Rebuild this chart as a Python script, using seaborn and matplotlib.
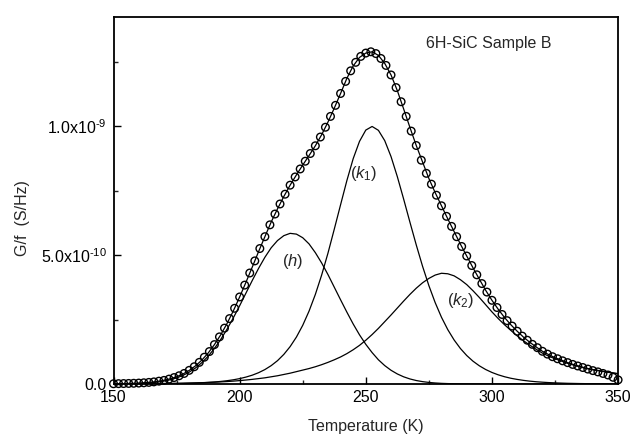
import numpy as np
import matplotlib
matplotlib.use("Agg")
import matplotlib.pyplot as plt
from matplotlib.ticker import MultipleLocator
import seaborn as sns

# ---- data (values in units of 1e-9 S/Hz) ----
T_fit = np.arange(150, 350.1, 2.5)      # temperature grid of fitted curves (K)
T_data = np.arange(150, 350.1, 2.0)     # temperature grid of measured points (K)

h_peak = [0.0003, 0.0005, 0.0008, 0.0013, 0.0020, 0.0032, 0.0050, 0.0075,
          0.0113, 0.0165, 0.0236, 0.0332, 0.0460, 0.0623, 0.0828, 0.1078,
          0.138, 0.173, 0.213, 0.257, 0.304, 0.353, 0.402, 0.449,
          0.492, 0.529, 0.557, 0.576, 0.585, 0.582, 0.568, 0.544,
          0.510, 0.470, 0.425, 0.376, 0.327, 0.279, 0.233, 0.191,
          0.154, 0.122, 0.094, 0.0715, 0.0533, 0.039, 0.0279, 0.0196,
          0.0135, 0.0092, 0.0061, 0.0040, 0.0025, 0.0016, 0.0010, 0.0006,
          0.0004, 0.0002, 0.0001, 0, 0, 0, 0, 0,
          0, 0, 0, 0, 0, 0, 0, 0,
          0, 0, 0, 0, 0, 0, 0, 0,
          0]

k1_peak = [0.0001, 0.0002, 0.0002, 0.0003, 0.0004, 0.0005, 0.0006, 0.0008,
           0.0011, 0.0014, 0.0017, 0.0022, 0.0029, 0.0037, 0.0047, 0.0061,
           0.0078, 0.0100, 0.0128, 0.0164, 0.0209, 0.0269, 0.0343, 0.0439,
           0.056, 0.0714, 0.0906, 0.1149, 0.1451, 0.1823, 0.2279, 0.2829,
           0.3478, 0.4231, 0.508, 0.601, 0.696, 0.790, 0.875, 0.942,
           0.986, 1.000, 0.985, 0.945, 0.883, 0.805, 0.718, 0.628,
           0.540, 0.457, 0.382, 0.316, 0.259, 0.211, 0.171, 0.1378,
           0.1106, 0.0885, 0.0707, 0.0563, 0.0448, 0.0356, 0.0282, 0.0223,
           0.0178, 0.0141, 0.0111, 0.0088, 0.0070, 0.0055, 0.0044, 0.0035,
           0.0027, 0.0022, 0.0017, 0.0014, 0.0011, 0.0009, 0.0007, 0.0005,
           0.0004]

k2_peak = [0.0007, 0.0008, 0.0009, 0.0010, 0.0012, 0.0014, 0.0016, 0.0018,
           0.0021, 0.0025, 0.0029, 0.0033, 0.0039, 0.0045, 0.0052, 0.0061,
           0.0070, 0.0082, 0.0095, 0.0112, 0.0132, 0.0155, 0.018, 0.021,
           0.024, 0.028, 0.032, 0.037, 0.042, 0.048, 0.054, 0.060,
           0.067, 0.075, 0.084, 0.094, 0.105, 0.118, 0.133, 0.150,
           0.170, 0.192, 0.216, 0.242, 0.268, 0.295, 0.322, 0.348,
           0.372, 0.393, 0.410, 0.423, 0.430, 0.428, 0.420, 0.405,
           0.386, 0.362, 0.336, 0.308, 0.280, 0.254, 0.230, 0.208,
           0.187, 0.168, 0.151, 0.135, 0.120, 0.108, 0.098, 0.089,
           0.080, 0.073, 0.066, 0.060, 0.055, 0.051, 0.047, 0.043,
           0.040]

total_fit = [0.0011, 0.0015, 0.0019, 0.0026, 0.0036, 0.0051, 0.0072, 0.0101,
             0.0145, 0.0204, 0.0282, 0.0387, 0.0528, 0.0705, 0.0927, 0.1200,
             0.153, 0.191, 0.235, 0.284, 0.338, 0.395, 0.454, 0.514,
             0.572, 0.629, 0.680, 0.728, 0.772, 0.812, 0.850, 0.887,
             0.925, 0.968, 1.017, 1.071, 1.128, 1.187, 1.235, 1.268,
             1.285, 1.290, 1.276, 1.245, 1.200, 1.139, 1.068, 0.996,
             0.926, 0.862, 0.798, 0.743, 0.692, 0.641, 0.592, 0.543,
             0.497, 0.451, 0.407, 0.364, 0.325, 0.290, 0.258, 0.230,
             0.205, 0.182, 0.162, 0.144, 0.127, 0.114, 0.102, 0.093,
             0.083, 0.075, 0.068, 0.061, 0.056, 0.052, 0.048, 0.044,
             0.040]

measured = [0.0010, 0.0014, 0.0018, 0.0022, 0.0028, 0.0036, 0.0047, 0.0062, 0.0082, 0.0110,
            0.014, 0.019, 0.025, 0.032, 0.041, 0.053, 0.067, 0.084, 0.104, 0.126,
            0.153, 0.183, 0.217, 0.254, 0.294, 0.338, 0.384, 0.431, 0.478, 0.526,
            0.572, 0.618, 0.660, 0.699, 0.737, 0.772, 0.804, 0.835, 0.865, 0.895,
            0.925, 0.959, 0.997, 1.039, 1.082, 1.128, 1.175, 1.216, 1.249, 1.272,
            1.285, 1.290, 1.283, 1.264, 1.237, 1.200, 1.151, 1.096, 1.039, 0.982,
            0.926, 0.869, 0.818, 0.776, 0.733, 0.692, 0.651, 0.612, 0.572, 0.534,
            0.497, 0.460, 0.424, 0.390, 0.357, 0.325, 0.297, 0.270, 0.246, 0.225,
            0.205, 0.186, 0.170, 0.154, 0.141, 0.127, 0.116, 0.106, 0.098, 0.090,
            0.083, 0.076, 0.070, 0.064, 0.058, 0.052, 0.047, 0.041, 0.035, 0.026,
            0.016]

scale = 1e-9
y_ticks = [0.0, 5e-10, 1e-9]
y_tick_labels = ["0.0", "5.0x10$^{\\mathregular{\u2010}10}$", "1.0x10$^{\\mathregular{\u2010}9}$"]
x_ticks = [150, 200, 250, 300, 350]

# ---- style ----
sns.set_style("white")
plt.rcParams["font.family"] = ["Liberation Sans", "DejaVu Sans"]
plt.rcParams["mathtext.fontset"] = "custom"
plt.rcParams["mathtext.rm"] = "Liberation Sans"
plt.rcParams["mathtext.it"] = "Liberation Sans:italic"

fig = plt.figure(figsize=(6.32, 4.34), dpi=100)
ax = fig.add_axes([0.1796, 0.1152, 0.7984, 0.8456])

lw = 0.9
for comp in (h_peak, k1_peak, k2_peak):
    sns.lineplot(x=T_fit, y=np.array(comp) * scale, ax=ax, color="black",
                 linewidth=lw, zorder=2)
sns.lineplot(x=T_fit, y=np.array(total_fit) * scale, ax=ax, color="black",
             linewidth=lw, zorder=2)
sns.scatterplot(x=T_data, y=np.array(measured) * scale, ax=ax, marker="o",
                s=30, facecolor="none", edgecolor="black", linewidth=1.0,
                zorder=3, clip_on=False)

ax.set_xlim(150, 350)
ax.set_ylim(0, 1.425e-9)
ax.set_xticks(x_ticks)
ax.set_xticklabels([str(t) for t in x_ticks])
ax.set_yticks(y_ticks)
ax.set_yticklabels(y_tick_labels)
ax.xaxis.set_minor_locator(MultipleLocator(25))
ax.yaxis.set_minor_locator(MultipleLocator(2.5e-10))
ax.tick_params(axis="both", which="major", direction="in", length=5, width=1.0,
               labelsize=11.5, colors="black")
ax.tick_params(axis="both", which="minor", direction="in", length=3, width=1.0)
ax.tick_params(axis="y", which="both", left=True, right=False, pad=5)
ax.tick_params(axis="x", which="both", bottom=True, top=False, pad=4.5)
for sp in ax.spines.values():
    sp.set_linewidth(1.3)
    sp.set_color("black")

ax.set_xlabel("Temperature (K)", fontsize=11.5, labelpad=10)
ax.set_ylabel("G/f  (S/Hz)", fontsize=11.5)
ax.yaxis.set_label_coords(-0.166, 0.453)

ax.text(221, 0.475e-9, "(" + r"$h$" + ")", fontsize=12, ha="center", va="center")
ax.text(249, 0.818e-9, "(" + r"$k_1$" + ")", fontsize=12, ha="center", va="center")
ax.text(287.7, 0.324e-9, "(" + r"$k_2$" + ")", fontsize=12, ha="center", va="center")
ax.text(274, 1.322e-9, "6H-SiC Sample B", fontsize=11.5, ha="left", va="center")

fig.savefig("out.png", dpi=100)
